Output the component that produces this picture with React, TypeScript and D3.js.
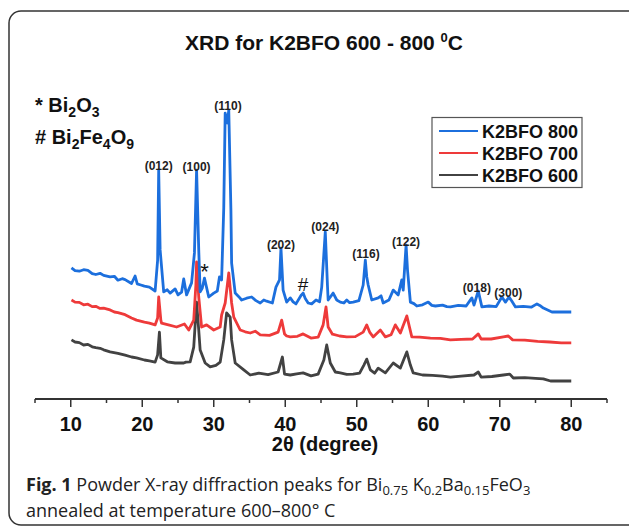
import React from "react";
import * as d3 from "d3";

// 2θ (deg), intensity (a.u., already offset as plotted)
const k800: [number, number][] = [
  [10.1, 43.7], [10.6, 42.8], [11.2, 42.6], [11.8, 43.1], [12.4, 42.9], [13.0, 41.8], [13.5, 41.5],
  [14.1, 41.9], [14.6, 41.2], [15.5, 40.7], [16.1, 40.9], [16.6, 39.6], [17.2, 40.1], [17.6, 39.8],
  [18.5, 38.5], [19.0, 41.0], [19.3, 38.4], [19.8, 38.0], [20.3, 37.6], [21.0, 37.3], [21.8, 36.0],
  [22.15, 46.3], [22.3, 76.3], [22.5, 49.7], [23.0, 35.7], [23.5, 36.4], [23.9, 35.3], [24.6, 36.7],
  [25.0, 34.7], [25.5, 35.6], [25.8, 40.0], [26.2, 34.7], [26.9, 38.7], [27.3, 48.7], [27.6, 76.3],
  [27.9, 49.7], [28.1, 35.7], [28.4, 37.0], [28.7, 40.3], [29.3, 34.0], [30.0, 35.3], [30.5, 36.0],
  [30.8, 40.7], [31.1, 39.7], [31.4, 63.7], [31.6, 95.3], [31.9, 92.0], [32.1, 96.3], [32.4, 63.0],
  [32.5, 45.3], [33.0, 35.3], [33.5, 34.1], [33.9, 33.0], [34.6, 33.6], [35.3, 34.0], [35.9, 32.8],
  [36.5, 32.0], [37.0, 33.0], [37.4, 32.6], [38.2, 32.0], [38.7, 37.3], [39.2, 39.7], [39.4, 50.3],
  [39.7, 36.3], [40.2, 32.3], [40.7, 33.7], [41.1, 32.4], [41.5, 31.7], [42.2, 34.5], [42.5, 35.3],
  [42.8, 33.5], [43.2, 32.0], [43.7, 31.7], [44.3, 33.0], [44.8, 32.4], [45.1, 37.3], [45.6, 55.7],
  [45.9, 38.0], [46.0, 33.0], [46.7, 35.3], [47.2, 33.0], [47.7, 32.3], [48.2, 32.0], [48.6, 33.0],
  [49.0, 32.1], [49.5, 32.3], [50.3, 32.8], [50.9, 38.0], [51.2, 46.3], [51.4, 40.7], [51.6, 38.0],
  [52.1, 33.0], [53.0, 33.7], [53.4, 34.4], [53.7, 32.0], [54.5, 33.0], [55.1, 36.3], [55.8, 34.7],
  [56.3, 39.7], [56.5, 36.3], [56.9, 51.3], [57.1, 43.0], [57.5, 32.3], [58.0, 31.8], [58.4, 31.0],
  [59.2, 31.4], [60.0, 32.3], [60.5, 31.2], [61.0, 31.0], [62.0, 31.3], [62.6, 30.8], [63.1, 30.7],
  [64.2, 31.2], [65.3, 31.0], [66.1, 33.7], [66.4, 31.3], [66.8, 34.5], [67.0, 36.0], [67.5, 30.7],
  [68.5, 31.0], [69.5, 30.8], [70.3, 34.0], [70.8, 32.3], [71.3, 34.0], [71.7, 32.6], [72.2, 30.7],
  [73.3, 30.9], [74.4, 30.6], [75.2, 31.7], [75.6, 31.2], [76.1, 30.3], [77.3, 29.0], [78.6, 29.0],
  [80.0, 29.0],
];

const k700: [number, number][] = [
  [10.1, 33.0], [10.6, 32.3], [11.2, 32.2], [11.8, 31.4], [12.4, 31.6], [13.0, 30.8], [13.5, 30.9],
  [14.1, 30.2], [14.6, 30.3], [15.5, 29.7], [16.1, 29.0], [16.6, 28.8], [17.6, 28.1], [18.5, 27.0],
  [19.2, 26.3], [20.3, 25.6], [21.0, 25.3], [21.8, 24.7], [22.15, 27.0], [22.3, 34.0], [22.6, 26.3],
  [22.7, 25.3], [23.8, 24.6], [24.8, 24.0], [25.9, 25.0], [26.5, 23.0], [27.2, 26.3], [27.5, 38.0],
  [27.6, 45.7], [27.9, 34.0], [28.3, 24.0], [29.0, 24.7], [30.0, 23.0], [30.9, 24.0], [31.1, 28.0],
  [31.6, 32.0], [32.1, 42.0], [32.5, 32.0], [32.8, 27.3], [33.7, 23.0], [34.4, 22.4], [35.1, 22.0],
  [35.8, 22.6], [36.5, 21.4], [37.8, 21.2], [39.0, 22.3], [39.5, 26.3], [39.9, 21.7], [40.2, 21.0],
  [40.7, 20.7], [41.7, 20.9], [42.5, 21.7], [43.6, 20.3], [44.6, 20.6], [45.3, 24.7], [45.7, 30.7],
  [46.0, 24.0], [46.6, 21.6], [47.6, 21.0], [48.6, 20.7], [49.8, 20.8], [50.9, 22.3], [51.4, 24.7],
  [51.8, 22.3], [52.3, 20.7], [53.3, 23.0], [54.0, 20.7], [54.8, 21.4], [55.4, 24.7], [56.1, 22.0],
  [57.0, 27.7], [57.7, 20.7], [58.8, 20.6], [60.3, 20.3], [61.7, 20.2], [63.1, 19.7], [64.6, 19.9],
  [66.2, 20.0], [67.0, 21.7], [67.4, 20.0], [68.8, 20.0], [70.5, 20.7], [71.2, 21.0], [71.8, 19.7],
  [73.5, 19.6], [75.3, 19.2], [77.0, 19.0], [78.6, 18.7], [80.0, 18.7],
];

const k600: [number, number][] = [
  [10.1, 19.7], [10.6, 19.0], [11.2, 18.8], [11.8, 18.0], [12.4, 18.2], [13.0, 17.4], [13.5, 17.1],
  [14.1, 16.9], [14.6, 16.4], [15.5, 15.7], [16.6, 15.2], [17.6, 14.6], [18.5, 14.0], [19.2, 13.7],
  [20.3, 13.0], [21.0, 12.7], [21.8, 12.3], [22.15, 14.7], [22.4, 22.3], [22.6, 13.7], [23.5, 12.4],
  [24.6, 12.0], [25.8, 12.0], [26.1, 12.3], [26.7, 12.4], [27.2, 17.3], [27.6, 32.3], [27.9, 23.0],
  [28.1, 16.3], [28.8, 12.0], [29.5, 10.7], [30.3, 11.2], [30.9, 12.3], [31.4, 19.7], [31.8, 28.7],
  [32.3, 27.3], [32.5, 19.7], [33.0, 12.0], [34.2, 9.7], [35.1, 8.0], [36.3, 8.6], [37.6, 8.1],
  [39.0, 9.0], [39.6, 14.0], [39.9, 8.3], [40.7, 8.0], [41.6, 8.4], [42.5, 8.7], [43.6, 7.7],
  [44.6, 8.3], [45.4, 13.0], [45.8, 18.0], [46.3, 12.0], [47.0, 9.0], [47.7, 8.7], [48.6, 8.2],
  [49.5, 8.3], [50.4, 8.6], [51.0, 11.3], [51.4, 13.3], [51.9, 9.7], [52.5, 8.6], [53.0, 10.3],
  [54.0, 8.7], [55.1, 12.0], [56.1, 10.3], [57.0, 15.7], [57.5, 11.3], [57.9, 8.7], [59.2, 8.0],
  [60.6, 7.9], [62.0, 7.6], [63.1, 7.3], [64.6, 7.6], [66.4, 8.0], [67.0, 9.0], [67.4, 7.3],
  [68.9, 7.5], [70.5, 8.0], [71.4, 8.3], [71.9, 7.0], [73.5, 7.1], [75.0, 6.9], [76.1, 6.7],
  [77.1, 6.0], [78.6, 6.0], [80.0, 6.0],
];

const seriesNames = ["K2BFO 800", "K2BFO 700", "K2BFO 600"];
const seriesColors = ["#1c6fdd", "#ee3a3a", "#424242"];

const peakLabels = ["(012)", "(100)", "(110)", "(202)", "(024)", "(116)", "(122)", "(018)", "(300)"];
const peakTheta = [22.3, 27.6, 32.0, 39.4, 45.6, 51.3, 56.9, 66.8, 71.2];
const peakLabelLevel = [76.3, 76.0, 96.3, 50.0, 56.0, 47.1, 51.1, 35.8, 33.9];

const majorTicks = [10, 20, 30, 40, 50, 60, 70, 80];
const minorTicks = [5, 15, 25, 35, 45, 55, 65, 75, 85];

const font = "'Liberation Sans', Arial, sans-serif";
const capFont = "'Open Sans', sans-serif";

export default function App() {
  const width = 629;
  const height = 529;

  const xScale = d3.scaleLinear().domain([5, 85]).range([35, 607]);
  const yScale = d3.scaleLinear().domain([0, 100]).range([399, 99]);

  const linePath = d3
    .line<[number, number]>()
    .x((d) => xScale(d[0]))
    .y((d) => yScale(d[1]));

  const allSeries = [k800, k700, k600];
  const axisY = yScale(0);

  return (
    <svg
      width={width}
      height={height}
      style={{ position: "absolute", left: 0, top: 0, background: "#fff" }}
    >
      {/* figure frame */}
      <rect x={9} y={11} width={640} height={514} rx={12} fill="none" stroke="#333" strokeWidth={1.5} />

      <text x={324} y={50} textAnchor="middle" fontFamily={font} fontWeight="bold" fontSize={21} fill="#111">
        XRD for K2BFO 600 - 800 <tspan dy={-8} fontSize={13}>0</tspan>
        <tspan dy={8}>C</tspan>
      </text>

      {/* phase keys */}
      <text x={35} y={112} fontFamily={font} fontWeight="bold" fontSize={20} fill="#111">
        * Bi<tspan dy={5} fontSize={14}>2</tspan>
        <tspan dy={-5}>O</tspan>
        <tspan dy={5} fontSize={14}>3</tspan>
      </text>
      <text x={35} y={144} fontFamily={font} fontWeight="bold" fontSize={20} fill="#111">
        # Bi<tspan dy={5} fontSize={14}>2</tspan>
        <tspan dy={-5}>Fe</tspan>
        <tspan dy={5} fontSize={14}>4</tspan>
        <tspan dy={-5}>O</tspan>
        <tspan dy={5} fontSize={14}>9</tspan>
      </text>

      {/* traces, drawn bottom first */}
      {allSeries
        .map((s, i) => (
          <path
            key={seriesNames[i]}
            d={linePath(s) || ""}
            fill="none"
            stroke={seriesColors[i]}
            strokeWidth={2.8}
            strokeLinejoin="round"
          />
        ))
        .reverse()}

      {/* peak indices */}
      {peakLabels.map((l, i) => (
        <text
          key={l}
          x={xScale(peakTheta[i])}
          y={yScale(peakLabelLevel[i])}
          textAnchor="middle"
          fontFamily={font}
          fontWeight="bold"
          fontSize={12}
          fill="#222"
        >
          {l}
        </text>
      ))}
      <text x={xScale(28.7)} y={yScale(40)} textAnchor="middle" fontFamily={font} fontSize={22} fill="#111">
        *
      </text>
      <text x={xScale(42.5)} y={yScale(36)} textAnchor="middle" fontFamily={font} fontSize={19} fill="#111">
        #
      </text>

      {/* legend */}
      <rect x={432} y={117.5} width={150} height={70} fill="#fff" stroke="#555" strokeWidth={1.2} />
      {seriesNames.map((n, i) => (
        <g key={n} transform={`translate(0, ${131 + i * 22})`}>
          <line x1={439} x2={478} y1={0} y2={0} stroke={seriesColors[i]} strokeWidth={2} />
          <text x={482} y={6.5} fontFamily={font} fontWeight="bold" fontSize={18} fill="#111">
            {n}
          </text>
        </g>
      ))}

      {/* x axis */}
      <line x1={xScale(5)} x2={xScale(85)} y1={axisY} y2={axisY} stroke="#333" strokeWidth={2} />
      {minorTicks.map((t) => (
        <line key={t} x1={xScale(t)} x2={xScale(t)} y1={axisY} y2={axisY + 4} stroke="#333" strokeWidth={1.5} />
      ))}
      {majorTicks.map((t) => (
        <g key={t}>
          <line x1={xScale(t)} x2={xScale(t)} y1={axisY} y2={axisY + 8} stroke="#333" strokeWidth={1.5} />
          <text x={xScale(t)} y={431} textAnchor="middle" fontFamily={font} fontWeight="bold" fontSize={20} fill="#111">
            {t}
          </text>
        </g>
      ))}
      <text x={325} y={451} textAnchor="middle" fontFamily={font} fontWeight="bold" fontSize={20} fill="#111">
        2θ (degree)
      </text>

      {/* caption */}
      <text x={26} y={491} fontFamily={capFont} fontSize={18} fill="#222">
        <tspan fontWeight="bold">Fig. 1</tspan> Powder X-ray diffraction peaks for Bi
        <tspan dy={4} fontSize={13}>0.75</tspan>
        <tspan dy={-4}> K</tspan>
        <tspan dy={4} fontSize={13}>0.2</tspan>
        <tspan dy={-4}>Ba</tspan>
        <tspan dy={4} fontSize={13}>0.15</tspan>
        <tspan dy={-4}>FeO</tspan>
        <tspan dy={4} fontSize={13}>3</tspan>
      </text>
      <text x={26} y={517} fontFamily={capFont} fontSize={18} fill="#222">
        annealed at temperature 600–800° C
      </text>
    </svg>
  );
}
